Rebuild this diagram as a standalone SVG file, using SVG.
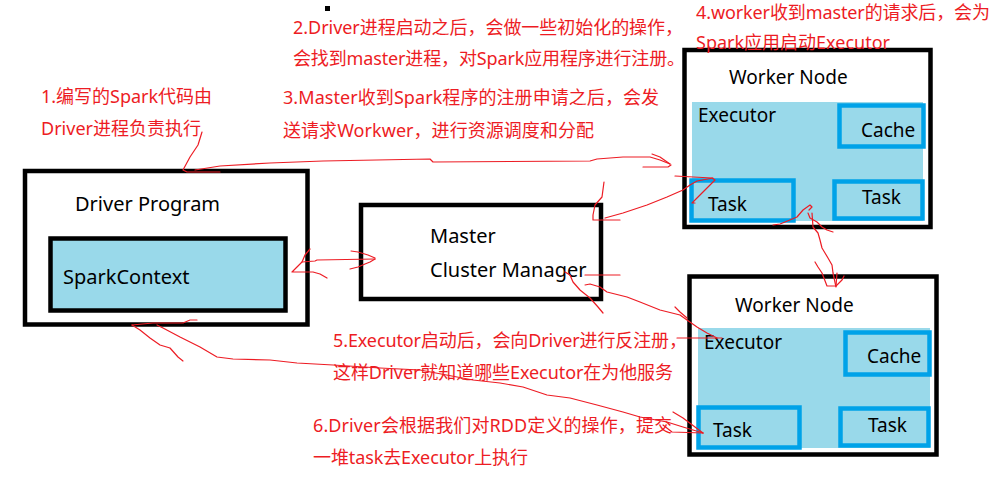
<svg xmlns="http://www.w3.org/2000/svg" width="993" height="477" viewBox="0 0 993 477">
<style>
.box{fill:#ffffff;stroke:#000000;stroke-width:4.5}
.exec{fill:#99D9EA}
.inner{fill:#99D9EA;stroke:#00A2E8;stroke-width:4.5}
.sc{fill:#99D9EA;stroke:#000000;stroke-width:4.5}
.lbl{font-family:"Noto Sans","Open Sans",sans-serif;font-size:20px;fill:#000000}
.wl{font-family:"Noto Sans","Open Sans",sans-serif;font-size:19px;fill:#000000}
.note{font-family:"Noto Sans","Noto Sans CJK SC",sans-serif;font-size:18px;fill:#ED1C24}
.ln{fill:none;stroke:#ED1C24;stroke-width:1.2;stroke-linejoin:round;stroke-linecap:round}
</style>
<rect x="0" y="0" width="993" height="477" fill="#ffffff"/>
<rect x="325" y="6" width="5" height="5" fill="#000000"/>

<g id="driver">
<rect class="box" x="25" y="171" width="282.5" height="153.5"/>
<text class="lbl" x="75" y="211">Driver Program</text>
<rect class="sc" x="50.5" y="238.5" width="235" height="72"/>
<text class="lbl" x="63" y="284">SparkContext</text>
</g>

<g id="master">
<rect class="box" x="361" y="205" width="240" height="94"/>
<text class="lbl" x="430" y="243">Master</text>
<text class="lbl" x="430" y="277">Cluster Manager</text>
</g>

<g id="worker1">
<rect class="box" x="684.5" y="50" width="246" height="177"/>
<text class="wl" x="729" y="84">Worker Node</text>
<rect class="exec" x="692" y="102" width="231" height="119"/>
<text class="wl" x="698" y="122">Executor</text>
<rect class="inner" x="839.5" y="105.5" width="84" height="41"/>
<text class="wl" x="861" y="137">Cache</text>
<rect class="inner" x="691.5" y="180.5" width="102" height="40"/>
<text class="wl" x="708" y="211">Task</text>
<rect class="inner" x="834.5" y="181.5" width="88" height="37"/>
<text class="wl" x="862" y="204">Task</text>
</g>

<g id="worker2">
<rect class="box" x="689.5" y="276.5" width="247" height="178"/>
<text class="wl" x="735" y="312">Worker Node</text>
<rect class="exec" x="698" y="328" width="232" height="120"/>
<text class="wl" x="704" y="349">Executor</text>
<rect class="inner" x="845.5" y="332.5" width="84" height="42"/>
<text class="wl" x="867" y="363">Cache</text>
<rect class="inner" x="698.5" y="407.5" width="101" height="40"/>
<text class="wl" x="713" y="437">Task</text>
<rect class="inner" x="840.5" y="408.5" width="88" height="37"/>
<text class="wl" x="868" y="432">Task</text>
</g>

<g id="notes">
<text class="note" x="41" y="103" textLength="171">1.编写的Spark代码由</text>
<text class="note" x="41" y="135" textLength="160">Driver进程负责执行</text>
<text class="note" x="293" y="34" textLength="390">2.Driver进程启动之后，会做一些初始化的操作，</text>
<text class="note" x="293" y="65" textLength="392">会找到master进程，对Spark应用程序进行注册。</text>
<text class="note" x="283" y="104" textLength="376">3.Master收到Spark程序的注册申请之后，会发</text>
<text class="note" x="283" y="137" textLength="311">送请求Workwer，进行资源调度和分配</text>
<text class="note" x="696" y="19" textLength="294">4.worker收到master的请求后，会为</text>
<text class="note" x="696" y="49" textLength="194">Spark应用启动Executor</text>
<text class="note" x="333" y="347" textLength="354">5.Executor启动后，会向Driver进行反注册，</text>
<text class="note" x="333" y="379" textLength="340">这样Driver就知道哪些Executor在为他服务</text>
<text class="note" x="313" y="432" textLength="359">6.Driver会根据我们对RDD定义的操作，提交</text>
<text class="note" x="313" y="464" textLength="215">一堆task去Executor上执行</text>
</g>

<g id="connectors">
<polyline class="ln" points="202,132 198,145 190,157 183,170 187,172 220,172"/>
<polyline class="ln" points="195,170 220,166 270,163 323,161 430,159 433,162 590,161 597,159 623,157 650,157 660,160 670,164"/>
<polyline class="ln" points="652,154 660,157 670,164"/>
<polyline class="ln" points="643,167 668,167 671,165"/>
<polyline class="ln" points="604,182 602,197 595,205 593,215 593,220 620,220"/>
<polyline class="ln" points="605,218 623,213 647,205 667,197 683,190 690,185 697,181 713,178"/>
<polyline class="ln" points="675,176 712,178 715,180 697,198 692,203 695,203"/>
<polyline class="ln" points="773,225 780,224 785,222 797,217 803,210 810,205 812,207 809,210"/>
<polyline class="ln" points="808,213 810,218 817,222 822,227 827,230 833,232"/>
<polyline class="ln" points="812,213 813,227 818,233 820,240 822,248 825,253 828,258 832,265 833,273 836,287"/>
<polyline class="ln" points="815,262 818,267 822,273 827,286 836,286 837,273"/>
<polyline class="ln" points="836,286 842,280 844,276"/>
<polyline class="ln" points="310,249 305,255 302,262 297,267 292,272 313,272 320,274 327,278"/>
<polyline class="ln" points="302,262 315,261 317,260 375,259"/>
<polyline class="ln" points="351,251 358,252 368,255 375,258"/>
<polyline class="ln" points="350,269 358,267 365,264 370,262 375,259"/>
<polyline class="ln" points="585,275 620,275"/>
<polyline class="ln" points="565,272 570,275 573,282 580,290 590,298 598,307 603,313"/>
<polyline class="ln" points="585,285 590,284 600,287 607,292 627,297 640,302 660,310 680,315 687,320 697,327 707,333 717,338"/>
<polyline class="ln" points="675,307 680,312 687,318"/>
<polyline class="ln" points="677,338 722,338"/>
<polyline class="ln" points="132,325 153,323 183,323 190,320 197,320"/>
<polyline class="ln" points="132,325 140,330 150,338 160,345 170,348 178,357 183,361"/>
<polyline class="ln" points="157,325 163,328 180,337 200,347 217,357 233,359 270,360 297,363 333,365 380,368 420,370 473,380 500,383 523,387 547,395 570,398 597,405 623,412 640,417 667,422 683,427 703,433"/>
<polyline class="ln" points="673,412 683,418 703,433"/>
<polyline class="ln" points="663,425 672,432 703,433"/>
</g>
</svg>
